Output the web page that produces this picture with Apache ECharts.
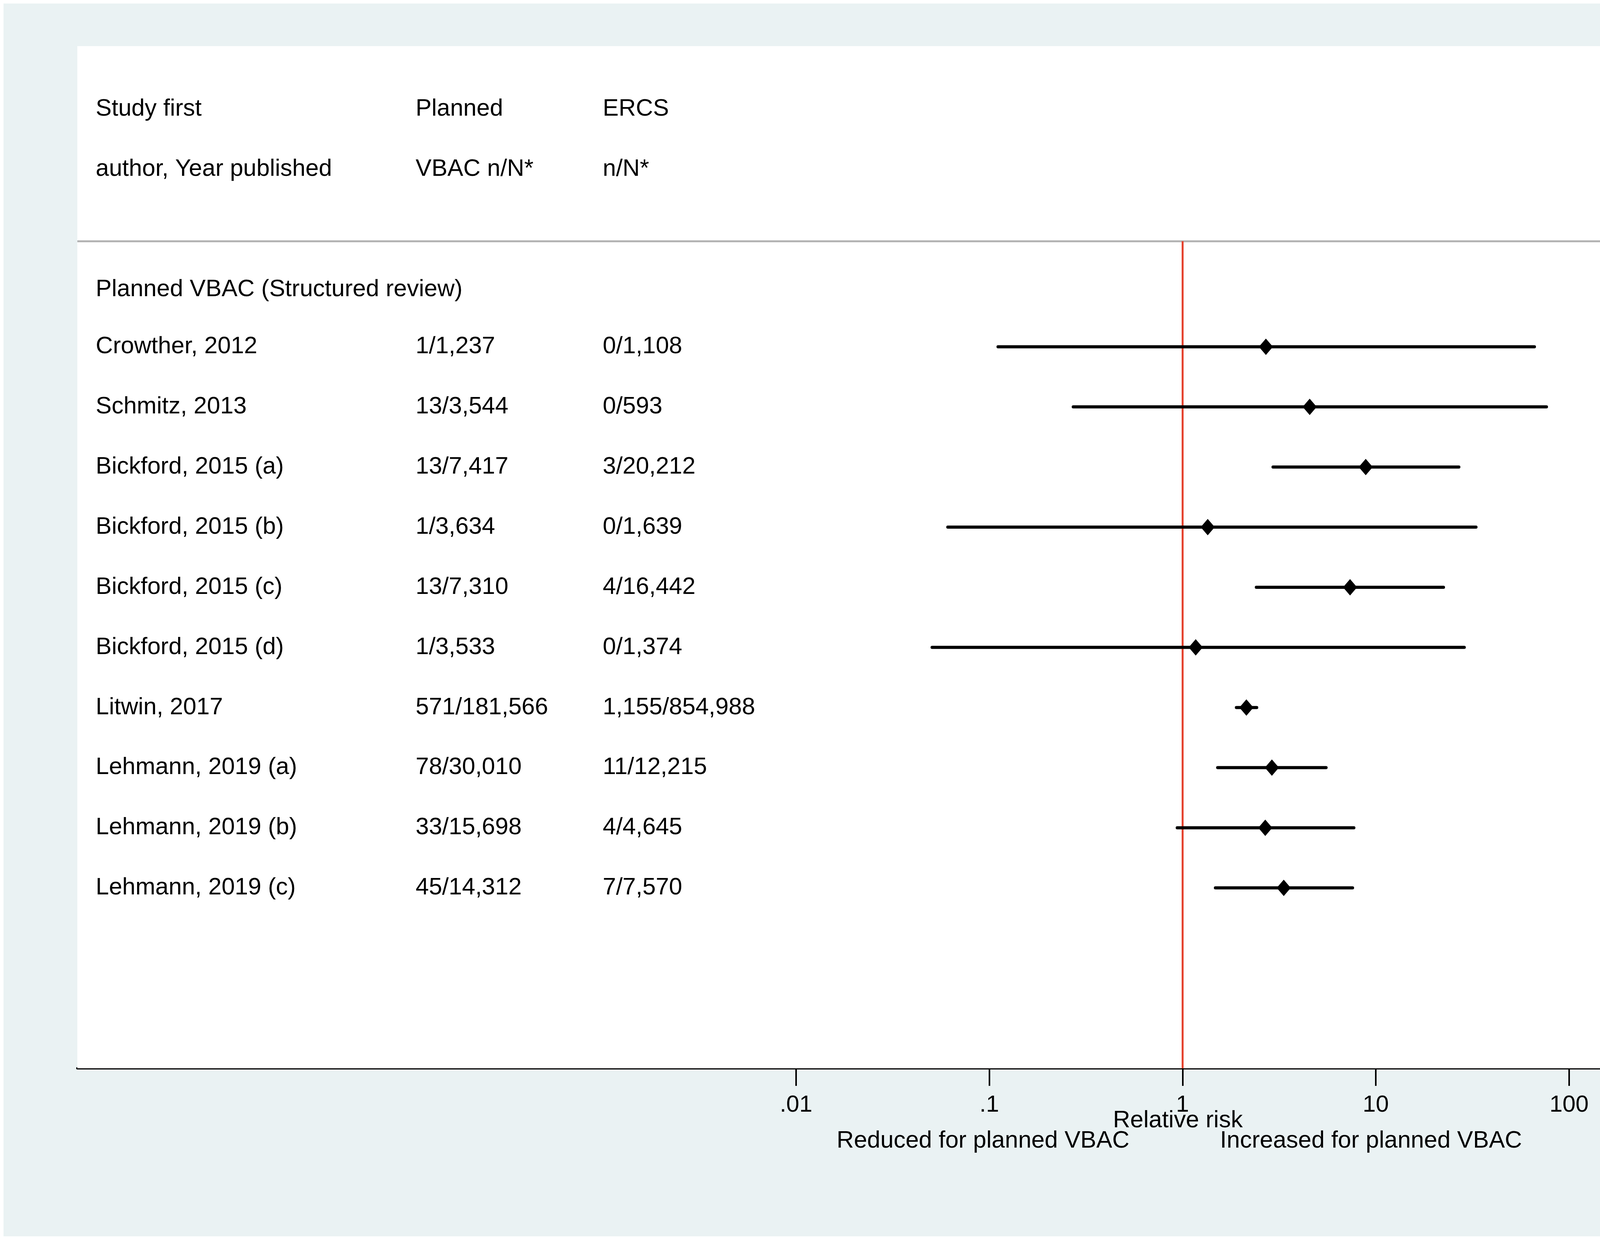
<!DOCTYPE html>
<html>
<head>
<meta charset="utf-8">
<script src="https://cdn.jsdelivr.net/npm/echarts@6/dist/echarts.min.js"></script>
<style>
  html, body { margin: 0; padding: 0; background: #ffffff; }
  #chart { width: 4328px; height: 3176px; }
</style>
</head>
<body>
<div id="chart"></div>
<script>
// ---------- data ----------
const headerCol1 = ['Study first', 'author, Year published'];
const headerCol2 = ['Planned', 'VBAC n/N*'];
const headerCol3 = ['ERCS', 'n/N*'];
const sectionLabel = 'Planned VBAC (Structured review)';

const studies = ['Crowther, 2012', 'Schmitz, 2013', 'Bickford, 2015 (a)', 'Bickford, 2015 (b)',
  'Bickford, 2015 (c)', 'Bickford, 2015 (d)', 'Litwin, 2017', 'Lehmann, 2019 (a)',
  'Lehmann, 2019 (b)', 'Lehmann, 2019 (c)'];
const vbacCounts = ['1/1,237', '13/3,544', '13/7,417', '1/3,634', '13/7,310', '1/3,533',
  '571/181,566', '78/30,010', '33/15,698', '45/14,312'];
const ercsCounts = ['0/1,108', '0/593', '3/20,212', '0/1,639', '4/16,442', '0/1,374',
  '1,155/854,988', '11/12,215', '4/4,645', '7/7,570'];
const relativeRisk = [2.70, 4.55, 8.87, 1.35, 7.36, 1.17, 2.14, 2.90, 2.68, 3.34];
const ciLower = [0.111, 0.272, 2.94, 0.061, 2.41, 0.0506, 1.90, 1.52, 0.939, 1.48];
const ciUpper = [66.2, 76.4, 26.9, 33.0, 22.4, 28.7, 2.42, 5.53, 7.70, 7.58];

const tickValues = [0.01, 0.1, 1, 10, 100];
const tickLabels = ['.01', '.1', '1', '10', '100'];
const axisTitle = 'Relative risk';
const leftNote = 'Reduced for planned VBAC';
const rightNote = 'Increased for planned VBAC';

// row positions (in row units, top = 0)
const headerRows = [0.05, 1.05];
const separatorRow = 2.245;
const sectionRow = 3.05;
const studyRows = studies.map((_, i) => 4 + i);
const lastRow = 16;

// ---------- chart ----------
const FONT = '"Liberation Sans", Arial, Helvetica, sans-serif';
const FS = 61;
const lg = v => Math.log10(v);
const xMin = -5.719, xMax = 2.2856;

const chart = echarts.init(document.getElementById('chart'), null, { renderer: 'canvas' });

const ciData = studies.map((_, i) => [lg(ciLower[i]), lg(ciUpper[i]), studyRows[i]]);
const pointData = studies.map((_, i) => [lg(relativeRisk[i]), studyRows[i]]);

const option = {
  animation: false,
  backgroundColor: '#ffffff',
  textStyle: { fontFamily: FONT },
  grid: {
    left: 198, right: 170, top: 118, bottom: 442,
    show: true, backgroundColor: '#ffffff', borderWidth: 0, z: 1
  },
  xAxis: {
    type: 'value', min: xMin, max: xMax,
    axisLine: { show: true, onZero: false, lineStyle: { color: '#000', width: 6 } },
    axisTick: { show: true, customValues: tickValues.map(lg), length: 45, lineStyle: { color: '#000', width: 4 } },
    axisLabel: {
      show: true, customValues: tickValues.map(lg), margin: 64,
      fontSize: 60, color: '#000', fontFamily: FONT,
      formatter: v => {
        const i = tickValues.findIndex(t => Math.abs(lg(t) - v) < 1e-6);
        return i >= 0 ? tickLabels[i] : '';
      }
    },
    splitLine: { show: false }
  },
  yAxis: { type: 'value', inverse: true, min: -1, max: lastRow, show: false },
  series: [
    {
      type: 'custom', z: 3,
      data: ciData,
      encode: { x: [0, 1], y: 2 },
      renderItem: (params, api) => {
        const a = api.coord([api.value(0), api.value(2)]);
        const b = api.coord([api.value(1), api.value(2)]);
        return {
          type: 'line',
          shape: { x1: a[0], y1: a[1], x2: b[0], y2: b[1] },
          style: { stroke: '#000', lineWidth: 8, lineCap: 'round' }
        };
      },
      markLine: {
        silent: true, symbol: 'none', label: { show: false }, z: 2,
        data: [
          [{ coord: [xMin, separatorRow], lineStyle: { color: '#b4b4b4', width: 5, type: 'solid' } },
           { coord: [xMax, separatorRow] }],
          [{ coord: [0, separatorRow], lineStyle: { color: '#e5432f', width: 5, type: 'solid' } },
           { coord: [0, lastRow] }]
        ]
      }
    },
    {
      type: 'scatter', z: 4,
      data: pointData,
      symbol: 'diamond', symbolSize: [36, 42],
      itemStyle: { color: '#000', opacity: 1 }
    }
  ]
};
chart.setOption(option);

// ---------- text table ----------
const colX = [245, 1064, 1543];
const yOf = r => chart.convertToPixel({ yAxisIndex: 0 }, r);
const xOf = v => chart.convertToPixel({ xAxisIndex: 0 }, v);
const txt = (text, x, y, align) => ({
  type: 'text', x: x, y: y, z: 10, silent: true,
  style: { text: text, font: FS + 'px ' + FONT, fill: '#000', textAlign: align || 'left', textVerticalAlign: 'middle' }
});
const g = [];
g.push({ type: 'rect', shape: { x: 9, y: 9, width: 4309, height: 3155 }, style: { fill: '#eaf2f3' }, z: -100, silent: true });
headerRows.forEach((r, i) => {
  g.push(txt(headerCol1[i], colX[0], yOf(r)));
  g.push(txt(headerCol2[i], colX[1], yOf(r)));
  g.push(txt(headerCol3[i], colX[2], yOf(r)));
});
g.push(txt(sectionLabel, colX[0], yOf(sectionRow)));
studies.forEach((s, i) => {
  g.push(txt(s, colX[0], yOf(studyRows[i])));
  g.push(txt(vbacCounts[i], colX[1], yOf(studyRows[i])));
  g.push(txt(ercsCounts[i], colX[2], yOf(studyRows[i])));
});
const x1 = xOf(0);
g.push(txt(axisTitle, x1 - 12, 2868, 'center'));
g.push(txt(leftNote, x1 - 136, 2920, 'right'));
g.push(txt(rightNote, x1 + 96, 2920, 'left'));
chart.setOption({ graphic: g });
</script>
</body>
</html>
